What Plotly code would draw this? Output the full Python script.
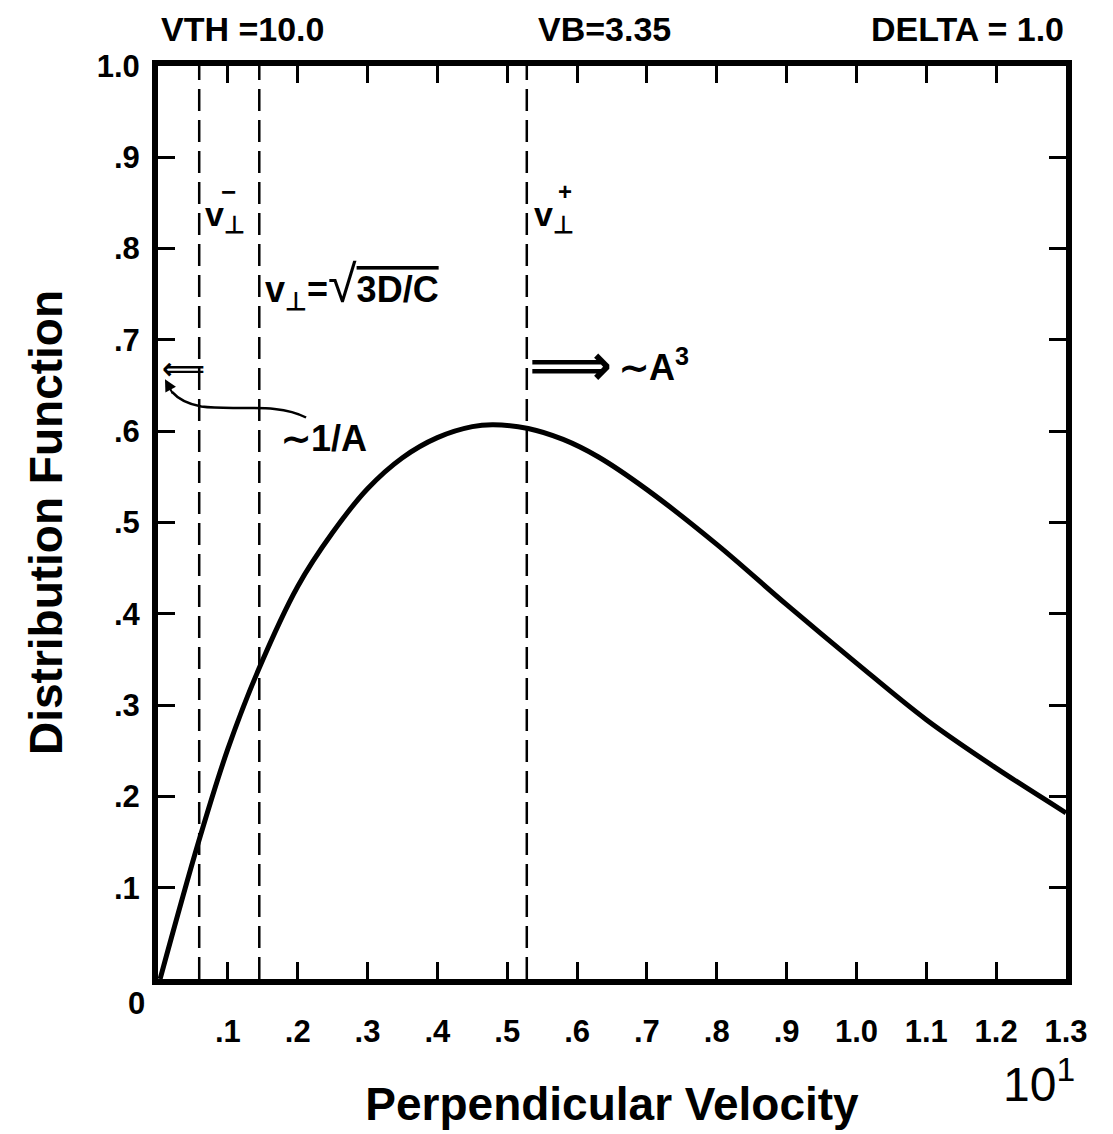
import plotly.graph_objects as go

# ---- data ----
vel = [0.003, 0.058, 0.100, 0.144, 0.200, 0.250, 0.300, 0.350, 0.400, 0.450,
       0.480, 0.530, 0.580, 0.630, 0.700, 0.800, 0.900, 1.000, 1.100, 1.200, 1.300]
dist = [0.000, 0.150, 0.252, 0.339, 0.430, 0.489, 0.537, 0.571, 0.593, 0.605,
        0.607, 0.603, 0.591, 0.572, 0.536, 0.476, 0.410, 0.346, 0.284, 0.231, 0.182]
vlines = [0.059, 0.145, 0.528]          # v-, sqrt(3D/C), v+
x_ticks = [0.1, 0.2, 0.3, 0.4, 0.5, 0.6, 0.7, 0.8, 0.9, 1.0, 1.1, 1.2, 1.3]
x_labels = [".1", ".2", ".3", ".4", ".5", ".6", ".7", ".8", ".9", "1.0", "1.1", "1.2", "1.3"]
y_ticks = [0.1, 0.2, 0.3, 0.4, 0.5, 0.6, 0.7, 0.8, 0.9, 1.0]
y_labels = [".1", ".2", ".3", ".4", ".5", ".6", ".7", ".8", ".9", "1.0"]
header = ["VTH =10.0", "VB=3.35", "DELTA = 1.0"]

FONT = "Liberation Sans, Arial, Helvetica, sans-serif"
SYM = "DejaVu Sans, Liberation Sans, sans-serif"

fig = go.Figure()

for v in vlines:
    fig.add_trace(go.Scatter(x=[v, v], y=[0, 1], mode="lines",
                             line=dict(color="black", width=2.5, dash="22px,9px"),
                             showlegend=False, hoverinfo="skip"))

fig.add_trace(go.Scatter(x=vel, y=dist, mode="lines",
                         line=dict(color="black", width=5, shape="spline", smoothing=1.0),
                         showlegend=False))

axis_common = dict(showline=True, linewidth=6, linecolor="black", mirror="ticks",
                   ticks="inside", ticklen=17, tickwidth=2.5, tickcolor="black",
                   showgrid=False, zeroline=False,
                   tickfont=dict(family=FONT, size=31, color="black", weight="bold"))

fig.update_layout(
    width=1113, height=1134,
    margin=dict(l=158, r=47, t=66, b=155),
    paper_bgcolor="white", plot_bgcolor="white",
    xaxis=dict(range=[0, 1.3], tickvals=x_ticks, ticktext=x_labels,
               ticklabelstandoff=20,
               title=dict(text="Perpendicular Velocity", standoff=42,
                          font=dict(family=FONT, size=46, color="black", weight="bold")),
               **axis_common),
    yaxis=dict(range=[0, 1.0], tickvals=y_ticks, ticktext=y_labels,
               ticklabelstandoff=6,
               title=dict(text="Distribution Function", standoff=22,
                          font=dict(family=FONT, size=46, color="black", weight="bold")),
               **axis_common),
)

bold = dict(family=FONT, color="black", weight="bold")

ann = []
# header texts
ann.append(dict(text=header[0], x=0.093, y=1.041, xref="paper", yref="paper",
                xanchor="center", yanchor="middle", showarrow=False, font=dict(size=34, **bold)))
ann.append(dict(text=header[1], x=0.492, y=1.041, xref="paper", yref="paper",
                xanchor="center", yanchor="middle", showarrow=False, font=dict(size=34, **bold)))
ann.append(dict(text=header[2], x=1.0, y=1.041, xref="paper", yref="paper",
                xanchor="right", yanchor="middle", showarrow=False, font=dict(size=34, **bold)))
# origin label
ann.append(dict(text="0", x=-0.024, y=-0.027, xref="paper", yref="paper",
                xanchor="center", yanchor="middle", showarrow=False, font=dict(size=31, **bold)))
# exponent
ann.append(dict(text="10<sup>1</sup>", x=1.012, y=-0.112, xref="paper", yref="paper",
                xanchor="right", yanchor="middle", showarrow=False,
                font=dict(family=FONT, size=48, color="black")))

# v_perp^- label
ann.append(dict(text="v<sub>⊥</sub>", x=0.064, y=0.835, xanchor="left", yanchor="middle",
                showarrow=False, font=dict(size=34, **bold)))
ann.append(dict(text="−", x=0.101, y=0.862, xanchor="center", yanchor="middle",
                showarrow=False, font=dict(size=26, **bold)))
# v_perp^+ label
ann.append(dict(text="v<sub>⊥</sub>", x=0.536, y=0.835, xanchor="left", yanchor="middle",
                showarrow=False, font=dict(size=34, **bold)))
ann.append(dict(text="+", x=0.582, y=0.862, xanchor="center", yanchor="middle",
                showarrow=False, font=dict(size=24, **bold)))
# sqrt(3D/C)
ann.append(dict(text="v<sub>⊥</sub>=<span style='font-size:52px;font-weight:normal'>√</span>"
                     "<span style='text-decoration:overline'>3D/C</span>",
                x=0.150, y=0.760, xanchor="left", yanchor="middle",
                showarrow=False, font=dict(size=36, **bold)))
# ~1/A
ann.append(dict(text="∼1/A", x=0.237, y=0.592, xanchor="center", yanchor="middle",
                showarrow=False, font=dict(size=36, **bold)))
# right arrow and ~A^3
ann.append(dict(text="⟹", x=0.528, y=0.672, xanchor="left", yanchor="middle",
                showarrow=False, font=dict(family=SYM, size=58, color="black", weight="bold")))
ann.append(dict(text="∼A<sup>3</sup>", x=0.657, y=0.672, xanchor="left", yanchor="middle",
                showarrow=False, font=dict(size=36, **bold)))
# left arrow
ann.append(dict(text="⟸", x=0.037, y=0.669, xanchor="center", yanchor="middle",
                showarrow=False, font=dict(family=SYM, size=30, color="black", weight="bold")))
# arrow head of the curved pointer
ann.append(dict(text="", x=0.010, y=0.657, ax=0.022, ay=0.640, axref="x", ayref="y",
                showarrow=True, arrowhead=2, arrowsize=1.2, arrowwidth=2, arrowcolor="black"))

fig.update_layout(annotations=ann)

# curved pointer from ~1/A to the left arrow
fig.add_shape(type="path", xref="x", yref="y",
              path="M 0.212,0.615 C 0.170,0.632 0.110,0.622 0.062,0.627 "
                   "C 0.040,0.630 0.028,0.636 0.020,0.643",
              line=dict(color="black", width=2.5))

fig.write_html("out.html")
